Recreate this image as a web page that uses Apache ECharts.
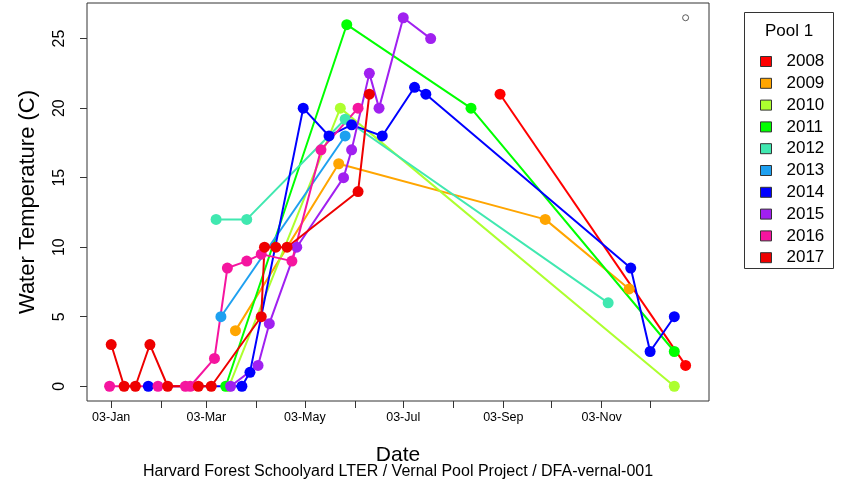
<!DOCTYPE html>
<html>
<head>
<meta charset="utf-8">
<script src="https://cdn.jsdelivr.net/npm/echarts@6/dist/echarts.min.js"></script>
<style>
  html, body { margin: 0; padding: 0; background: #ffffff; }
  #chart { width: 844px; height: 485px; }
</style>
</head>
<body>
<div id="chart"></div>
<script>
// Pool 1 water temperature readings, one list of dates (MM-DD) and temperatures per year
const years = ['2008', '2009', '2010', '2011', '2012', '2013', '2014', '2015', '2016', '2017'];
const yearColors = ['#FF0000', '#FFA500', '#ADFF2F', '#00FF00', '#40E8B0', '#1EA0F0', '#0000FF', '#A020F0', '#F5159F', '#EE0000'];

const dates2008 = ['09-01', '12-25'];
const temps2008 = [21, 1.5];

const dates2009 = ['03-21', '05-24', '09-29', '11-20'];
const temps2009 = [4, 16, 12, 7];

const dates2010 = ['03-17', '05-25', '12-18'];
const temps2010 = [0, 20, 0];

const dates2011 = ['03-15', '05-29', '08-14', '12-18'];
const temps2011 = [0, 26, 20, 2.5];

const dates2012 = ['03-09', '03-28', '05-28', '11-07'];
const temps2012 = [12, 12, 19.2, 6];

const dates2013 = ['03-12', '05-28'];
const temps2013 = [5, 18];

const dates2014 = ['01-26', '03-25', '03-30', '05-02', '05-18', '06-01', '06-20', '07-10', '07-17', '11-21', '12-03', '12-18'];
const temps2014 = [0, 0, 1, 20, 18, 18.8, 18, 21.5, 21, 8.5, 2.5, 5];

const dates2015 = ['03-18', '04-04', '04-11', '04-28', '05-27', '06-01', '06-12', '06-18', '07-03', '07-20'];
const temps2015 = [0, 1.5, 4.5, 10, 15, 17, 22.5, 20, 26.5, 25];

const dates2016 = ['01-02', '02-01', '02-18', '02-21', '03-08', '03-16', '03-28', '04-06', '04-25', '05-13', '06-05'];
const temps2016 = [0, 0, 0, 0, 2, 8.5, 9, 9.5, 9, 17, 20];

const dates2017 = ['01-03', '01-11', '01-18', '01-27', '02-07', '02-26', '03-06', '04-06', '04-08', '04-15', '04-22', '06-05', '06-12'];
const temps2017 = [3, 0, 0, 3, 0, 0, 0, 5, 10, 10, 10, 14, 21];

// Axis ticks: one tick on the 3rd of every month, a label on every other one
const tickDates = ['01-03', '02-03', '03-03', '04-03', '05-03', '06-03', '07-03', '08-03', '09-03', '10-03', '11-03', '12-03'];
const labelDates = ['01-03', '03-03', '05-03', '07-03', '09-03', '11-03'];
const tickLabels = ['03-Jan', '03-Mar', '03-May', '03-Jul', '03-Sep', '03-Nov'];
const yTicks = [0, 5, 10, 15, 20, 25];

// Range marker drawn at the latest date / warmest reading
const markerDate = '12-25';
const markerTemp = 26.5;

const allDates = [dates2008, dates2009, dates2010, dates2011, dates2012, dates2013, dates2014, dates2015, dates2016, dates2017];
const allTemps = [temps2008, temps2009, temps2010, temps2011, temps2012, temps2013, temps2014, temps2015, temps2016, temps2017];

// day of year (non-leap calendar) from an MM-DD string
const monthStart = [0, 31, 59, 90, 120, 151, 181, 212, 243, 273, 304, 334];
function dayOfYear(s) {
  const parts = s.split('-').map(Number);
  return monthStart[parts[0] - 1] + parts[1];
}

const labelByDay = {};
labelDates.forEach((d, i) => { labelByDay[dayOfYear(d)] = tickLabels[i]; });

const FONT = 'Liberation Sans, Arial, sans-serif';

const series = years.map((y, i) => ({
  name: y,
  type: 'line',
  data: allDates[i].map((d, k) => [dayOfYear(d), allTemps[i][k]]),
  symbol: 'circle',
  symbolSize: 11,
  showSymbol: true,
  color: yearColors[i],
  lineStyle: { width: 2, color: yearColors[i] },
  itemStyle: { color: yearColors[i] },
  emphasis: { disabled: true },
  animation: false
}));

series.push({
  name: 'range',
  type: 'scatter',
  data: [[dayOfYear(markerDate), markerTemp]],
  symbol: 'circle',
  symbolSize: 6,
  itemStyle: { color: '#ffffff', borderColor: '#333', borderWidth: 1 },
  emphasis: { disabled: true },
  z: 5,
  animation: false
});

const chart = echarts.init(document.getElementById('chart'), null, { renderer: 'canvas' });
chart.setOption({
  animation: false,
  backgroundColor: '#ffffff',
  grid: {
    left: 87, right: 135, top: 3, bottom: 84,
    show: true, borderColor: '#333', borderWidth: 1, backgroundColor: 'transparent'
  },
  xAxis: {
    type: 'value',
    min: -12, max: 373.5,
    axisLine: { show: false, onZero: false },
    splitLine: { show: false },
    axisTick: {
      show: true, length: 7, inside: false,
      lineStyle: { color: '#333', width: 1 },
      customValues: tickDates.map(dayOfYear)
    },
    axisLabel: {
      customValues: labelDates.map(dayOfYear),
      formatter: v => labelByDay[v] || '',
      margin: 10,
      fontSize: 12.5, color: '#000', fontFamily: FONT
    },
    name: 'Date',
    nameLocation: 'middle',
    nameGap: 44,
    nameTextStyle: { fontSize: 21, color: '#000', fontFamily: FONT }
  },
  yAxis: {
    type: 'value',
    min: -1.06, max: 27.56,
    axisLine: { show: false, onZero: false },
    splitLine: { show: false },
    axisTick: {
      show: true, length: 7, inside: false,
      lineStyle: { color: '#333', width: 1 },
      customValues: yTicks
    },
    axisLabel: {
      customValues: yTicks,
      rotate: 90,
      margin: 19,
      fontSize: 16, color: '#000', fontFamily: FONT
    },
    name: 'Water Temperature (C)',
    nameLocation: 'middle',
    nameRotate: 90,
    nameGap: 48,
    nameTextStyle: { fontSize: 22, color: '#000', fontFamily: FONT }
  },
  legend: {
    data: years,
    orient: 'vertical',
    left: 755, top: 48,
    itemWidth: 11, itemHeight: 10,
    itemGap: 4.8,
    icon: 'rect',
    selectedMode: false,
    itemStyle: { borderColor: '#333', borderWidth: 1 },
    textStyle: { fontSize: 17, lineHeight: 16, color: '#000', fontFamily: FONT, padding: [0, 0, 0, 10] }
  },
  graphic: [
    {
      type: 'rect', silent: true,
      shape: { x: 744.5, y: 12.5, width: 89, height: 256 },
      style: { fill: 'none', stroke: '#333', lineWidth: 1 }
    },
    {
      type: 'text', silent: true, x: 789, y: 31,
      style: { text: 'Pool 1', fontSize: 17, fill: '#000', fontFamily: FONT, align: 'center', verticalAlign: 'middle' }
    },
    {
      type: 'text', silent: true, x: 398, y: 472,
      style: {
        text: 'Harvard Forest Schoolyard LTER / Vernal Pool Project / DFA-vernal-001',
        fontSize: 16, fill: '#000', fontFamily: FONT, align: 'center', verticalAlign: 'middle'
      }
    }
  ],
  series: series
});
</script>
</body>
</html>
